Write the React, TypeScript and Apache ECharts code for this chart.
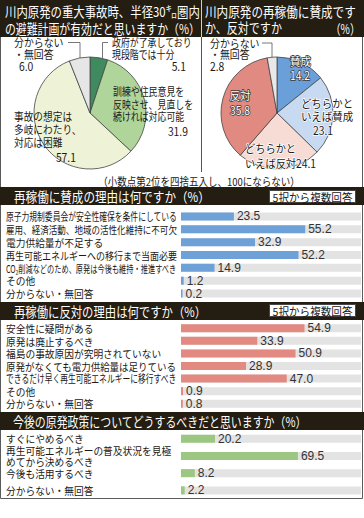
import React, { useEffect, useRef } from 'react';
import * as echarts from 'echarts';

const FF = '"Noto Sans CJK JP", "Noto Sans", sans-serif';
const NUMFF = '"Liberation Sans", Arial, sans-serif';
const INK = '#231815';
const BAND = '#241d12';

// ---- titles ----
const evacTitle = ['川内原発の重大事故時、半径30㌔圏内', 'の避難計画が有効だと思いますか（%）'];
const restartTitle = ['川内原発の再稼働に賛成です', 'か、反対ですか'];
const pctMark = '（%）';
const roundingNote = '（小数点第2位を四捨五入し、100にならない）';
const proTitle = '再稼働に賛成の理由は何ですか（%）';
const conTitle = '再稼働に反対の理由は何ですか（%）';
const policyTitle = '今後の原発政策についてどうするべきだと思いますか（%）';
const multiNote = '5択から複数回答';

// ---- pie 1 ----
const evacNames = ['政府が了承しており\n現段階では十分', '訓練や住民意見を\n反映させ、見直しを\n続ければ対応可能', '事故の想定は\n多岐にわたり、\n対応は困難', '分からない\n・無回答'];
const evacValues = [5.1, 31.9, 57.1, 6.0];
const evacColors = ['#3f8a5f', '#b0d59b', '#eef3d8', '#e6e6e6'];

// ---- pie 2 ----
const restartNames = ['賛成', 'どちらかと\nいえば賛成', 'どちらかと\nいえば反対', '反対', '分からない\n・無回答'];
const restartValues = [14.2, 23.1, 24.1, 35.8, 2.8];
const restartColors = ['#6a9fd9', '#c8daf1', '#f6dcd4', '#e08a82', '#e8e8e8'];

// ---- bars ----
const proReasons = ['原子力規制委員会が安全性確保を条件にしている', '雇用、経済活動、地域の活性化維持に不可欠', '電力供給量が不足する', '再生可能エネルギーへの移行まで当面必要', 'CO₂削減などのため、原発は今後も維持・推進すべき', 'その他', '分からない・無回答'];
const proValues = [23.5, 55.2, 32.9, 52.2, 14.9, 1.2, 0.2];
const conReasons = ['安全性に疑問がある', '原発は廃止するべき', '福島の事故原因が究明されていない', '原発がなくても電力供給量は足りている', 'できるだけ早く再生可能エネルギーに移行すべき', 'その他', '分からない・無回答'];
const conValues = [54.9, 33.9, 50.9, 28.9, 47.0, 0.9, 0.8];
const policyOptions = ['すぐにやめるべき', '再生可能エネルギーの普及状況を見極\nめてから決めるべき', '今後も活用するべき', '分からない・無回答'];
const policyValues = [20.2, 69.5, 8.2, 2.2];

let ctx: CanvasRenderingContext2D | null = null;
function measure(t: string, fs: number) {
  if (!ctx) ctx = document.createElement('canvas').getContext('2d');
  if (!ctx) return t.length * fs;
  ctx.font = `${fs}px "Noto Sans CJK JP"`;
  return Math.max(...t.split('\n').map((l) => ctx!.measureText(l).width));
}

function T(text: string, x: number, y: number, o: any = {}) {
  const fs = o.fs ?? 11;
  const align = o.align ?? 'left';
  const va = o.va ?? 'middle';
  let sx = o.sx ?? 1;
  if (o.target) sx = o.target / measure(text, fs);
  const style: any = {
    text, fontSize: fs, fontFamily: o.ff ?? FF, fill: o.fill ?? INK,
    align, textAlign: align, verticalAlign: va, textVerticalAlign: va,
  };
  if (o.lh) style.lineHeight = o.lh;
  if (o.stroke) { style.stroke = o.stroke; style.lineWidth = o.lw ?? 2; }
  return { type: 'text', x, y, scaleX: sx, silent: true, z: 100, style };
}

function rowLabelSeries(labels: string[], gi: number) {
  return {
    type: 'custom', xAxisIndex: gi, yAxisIndex: gi, silent: true, clip: false, z: 5,
    data: labels.map((_, i) => [0, i]),
    encode: { x: 0, y: 1 },
    renderItem: (params: any, api: any) => {
      const p = api.coord([0, api.value(1)]);
      const text = labels[params.dataIndex];
      const w = measure(text, 10.8);
      const sx = Math.min(0.9, 171 / w);
      return {
        type: 'text', x: p[0] - 175, y: p[1], scaleX: sx,
        style: { text, fontSize: 10.8, fontFamily: FF, fill: INK, align: 'left', textAlign: 'left', verticalAlign: 'middle', textVerticalAlign: 'middle', lineHeight: 10.5 },
      };
    },
  };
}

function barSeries(values: number[], gi: number, color: string) {
  return {
    type: 'bar', xAxisIndex: gi, yAxisIndex: gi, data: values, barWidth: 8, barMinHeight: 1.5, silent: true,
    itemStyle: { color }, showBackground: true, backgroundStyle: { color: '#e3e3e3' },
    label: { show: true, position: 'right', distance: 3, formatter: (p: any) => Number(p.value).toFixed(1), fontFamily: NUMFF, fontSize: 12, color: '#333' },
  };
}

export default function App() {
  const ref = useRef<HTMLDivElement>(null);
  useEffect(() => {
    document.body.style.margin = '0';
    const chart = echarts.init(ref.current!, null, { renderer: 'svg', width: 364, height: 518 });

    const g: any[] = [];
    // frame & bands
    g.push({ type: 'rect', z: 1, silent: true, shape: { x: 0.5, y: 0.5, width: 362, height: 498 }, style: { fill: 'none', stroke: '#5a5a5a', lineWidth: 1 } });
    g.push({ type: 'rect', z: 2, silent: true, shape: { x: 0, y: 0, width: 364, height: 37 }, style: { fill: BAND } });
    g.push({ type: 'rect', z: 2, silent: true, shape: { x: 0, y: 187, width: 364, height: 18 }, style: { fill: BAND } });
    g.push({ type: 'rect', z: 2, silent: true, shape: { x: 0, y: 302, width: 364, height: 18 }, style: { fill: BAND } });
    g.push({ type: 'rect', z: 2, silent: true, shape: { x: 0, y: 412, width: 364, height: 18 }, style: { fill: BAND } });
    g.push({ type: 'line', z: 3, silent: true, shape: { x1: 201.5, y1: 0, x2: 201.5, y2: 37 }, style: { stroke: '#cfcfcf', lineWidth: 1 } });
    g.push({ type: 'line', z: 3, silent: true, shape: { x1: 201.5, y1: 37, x2: 201.5, y2: 172 }, style: { stroke: '#555', lineWidth: 1 } });
    // note boxes
    g.push({ type: 'rect', z: 3, silent: true, shape: { x: 269.5, y: 190.5, width: 86, height: 12 }, style: { fill: '#fff', stroke: '#444', lineWidth: 1 } });
    g.push({ type: 'rect', z: 3, silent: true, shape: { x: 269.5, y: 304.5, width: 86, height: 12 }, style: { fill: '#fff', stroke: '#444', lineWidth: 1 } });
    g.push(T(multiNote, 312.5, 196.7, { fs: 11, align: 'center', target: 80 }));
    g.push(T(multiNote, 312.5, 310.7, { fs: 11, align: 'center', target: 80 }));

    // headers
    g.push(T(evacTitle[0], 5, 11.5, { fs: 13.5, fill: '#fff', target: 195 }));
    g.push(T(evacTitle[1], 5, 28, { fs: 13.5, fill: '#fff', target: 195 }));
    g.push(T(restartTitle[0], 205, 11.5, { fs: 13.5, fill: '#fff', target: 151 }));
    g.push(T(restartTitle[1], 205, 28, { fs: 13.5, fill: '#fff', target: 77 }));
    g.push(T(pctMark, 360, 28, { fs: 13.5, fill: '#fff', align: 'right', sx: 0.75 }));
    g.push(T(proTitle, 14, 196.5, { fs: 13.5, fill: '#fff', target: 196 }));
    g.push(T(conTitle, 14, 311.5, { fs: 13.5, fill: '#fff', target: 192 }));
    g.push(T(policyTitle, 13, 421.5, { fs: 13.5, fill: '#fff', target: 294 }));
    g.push(T(roundingNote, 199, 181.5, { fs: 11, align: 'center', target: 202 }));

    // pie leader lines
    const lead = { stroke: '#555', lineWidth: 0.8, fill: 'none' };
    g.push({ type: 'polyline', z: 50, silent: true, shape: { points: [[68, 42.5], [80, 42.5], [80, 58]] }, style: lead });
    g.push({ type: 'polyline', z: 50, silent: true, shape: { points: [[108, 42.5], [102.5, 42.5], [102.5, 58.5]] }, style: lead });
    g.push({ type: 'polyline', z: 50, silent: true, shape: { points: [[262, 43], [272, 43], [272, 57.5]] }, style: lead });

    // pie 1 labels
    const evacPos = [
      { x: 112, y: 42.5, lh: 12, sx: 0.81, nx: 186, ny: 66, na: 'right' },
      { x: 113, y: 91.5, lh: 12.5, sx: 0.81, nx: 188, ny: 130.5, na: 'right' },
      { x: 14, y: 116, lh: 13, sx: 0.88, nx: 76, ny: 157, na: 'right' },
      { x: 14, y: 42.5, lh: 11.5, sx: 0.9, nx: 19, ny: 66, na: 'left' },
    ];
    evacNames.forEach((n, i) => {
      const p = evacPos[i];
      g.push(T(n, p.x, p.y - p.lh / 2, { fs: 11, lh: p.lh, va: 'top', sx: p.sx }));
      g.push(T(evacValues[i].toFixed(1), p.nx, p.ny, { fs: 11.5, align: p.na, sx: 0.9 }));
    });

    // pie 2 labels
    const white = { fill: '#fff', stroke: '#3a3a3a', lw: 1.5 };
    const dark = { fill: INK, stroke: '#fff', lw: 1.5 };
    const restartPos = [
      { x: 290, y: 61, lh: 13, sx: 0.95, align: 'left', nx: 290, ny: 75, na: 'left', st: white },
      { x: 327, y: 103, lh: 13, sx: 0.95, align: 'center', nx: 323, ny: 130, na: 'center', st: dark },
      { x: 245, y: 148, lh: 15, sx: 0.93, align: 'left', nx: 296, ny: 163, na: 'left', st: dark },
      { x: 240, y: 95, lh: 13, sx: 0.95, align: 'center', nx: 240, ny: 110, na: 'center', st: white },
      { x: 210, y: 43, lh: 11.5, sx: 0.9, align: 'left', nx: 210, ny: 66, na: 'left', st: {} },
    ];
    restartNames.forEach((n, i) => {
      const p: any = restartPos[i];
      g.push(T(n, p.x, p.y - p.lh / 2, { fs: 11, lh: p.lh, va: 'top', sx: p.sx, align: p.align, ...p.st }));
      g.push(T(restartValues[i].toFixed(1), p.nx, p.ny, { fs: 11.5, align: p.na, sx: 0.9, ...p.st }));
    });

    const option: any = {
      animation: false,
      backgroundColor: '#fff',
      grid: [
        { left: 181, top: 210, width: 180, height: 90 },
        { left: 181, top: 322, width: 180, height: 88 },
        { left: 181, top: 430, width: 180, height: 69 },
      ],
      xAxis: [
        { gridIndex: 0, type: 'value', min: 0, max: 80, show: false },
        { gridIndex: 1, type: 'value', min: 0, max: 80, show: false },
        { gridIndex: 2, type: 'value', min: 0, max: 107, show: false },
      ],
      yAxis: [
        { gridIndex: 0, type: 'category', data: proReasons, inverse: true, show: false },
        { gridIndex: 1, type: 'category', data: conReasons, inverse: true, show: false },
        { gridIndex: 2, type: 'category', data: policyOptions, inverse: true, show: false },
      ],
      series: [
        {
          type: 'pie', center: [90, 113], radius: 56, startAngle: 90, clockwise: true, silent: true,
          label: { show: false }, labelLine: { show: false },
          itemStyle: { borderColor: '#444', borderWidth: 0.8 },
          data: evacNames.map((n, i) => ({ name: n, value: evacValues[i], itemStyle: { color: evacColors[i] } })),
        },
        {
          type: 'pie', center: [277, 113], radius: 56, startAngle: 90, clockwise: true, silent: true,
          label: { show: false }, labelLine: { show: false },
          itemStyle: { borderColor: '#444', borderWidth: 0.8 },
          data: restartNames.map((n, i) => ({ name: n, value: restartValues[i], itemStyle: { color: restartColors[i] } })),
        },
        barSeries(proValues, 0, '#6fa1d9'),
        barSeries(conValues, 1, '#e28a82'),
        barSeries(policyValues, 2, '#9cc782'),
        rowLabelSeries(proReasons, 0),
        rowLabelSeries(conReasons, 1),
        rowLabelSeries(policyOptions, 2),
      ],
      graphic: { elements: g },
    };
    chart.setOption(option);
    return () => chart.dispose();
  }, []);
  return <div ref={ref} style={{ width: 364, height: 518 }} />;
}
